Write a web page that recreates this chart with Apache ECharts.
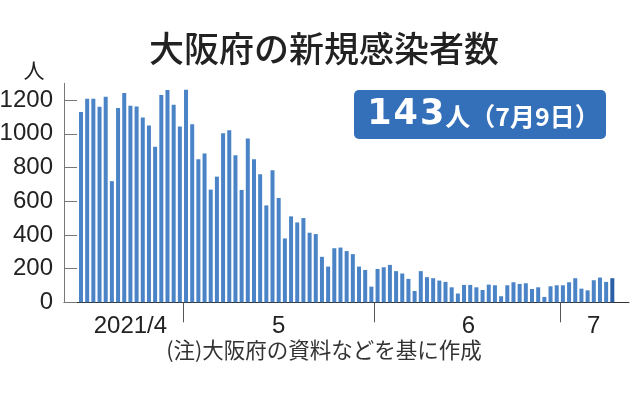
<!DOCTYPE html>
<html><head><meta charset="utf-8">
<script src="https://cdn.jsdelivr.net/npm/echarts@6/dist/echarts.min.js"></script>
<style>html,body{margin:0;padding:0;background:#fff}#c{width:638px;height:396px}</style>
</head><body><div id="c"></div>
<script>
// ---- data ----
const startYear = 2021, startMonth = 4, startDay = 14;   // first bar: 2021/4/14
const cases = [
  1130,1208,1209,1161,1220,719,1153,1242,1167,1162,1097,1050,923,1230,1260,1172,1043,   // Apr 14-30
  1262,1057,849,883,669,746,1004,1021,873,667,973,849,760,575,784,619,379,510,474,500,413,405,270,212,321,325,304,286,212,192,93, // May
  198,208,222,185,171,139,67,185,149,143,129,121,89,52,103,103,89,73,105,101,36,101,119,109,113,79,89,32,95,101, // June
  101,119,143,81,71,131,147,121,143  // Jul 1-9
];
const monthLabels = ['2021/4', '5', '6', '7'];
const monthLabelPos = [8, 32, 62.7, 83];
const yTicks = [0, 200, 400, 600, 800, 1000, 1200];
const titleText = '大阪府の新規感染者数';
const noteText = '(注)大阪府の資料などを基に作成';
const latestValue = '143';
const latestSuffix = ['人', '（', '7', '月', '9', '日', '）'];
const unitText = '人';

// ---- derived ----
const dates = cases.map((_, i) => {
  const d = new Date(startYear, startMonth - 1, startDay + i);
  return (d.getMonth() + 1) + '/' + d.getDate();
});
const monthStarts = [];
dates.forEach((d, i) => { if (i > 0 && d.split('/')[1] === '1') monthStarts.push(i - 0.5); });
const highlightIndex = cases.length - 1;
const barData = cases.map((v, i) => i === highlightIndex
  ? { value: [i, v], itemStyle: { color: '#2a5ea6' } }
  : { value: [i, v] });

const numFont = "'Liberation Sans', Arial, sans-serif";
const cjkFont = "'Noto Sans CJK JP', 'Noto Sans', sans-serif";

const boxText = latestValue.split('').map(c => '{a|' + c + '}').join('') +
  latestSuffix.map(c => '{b|' + c + '}').join('');

const chart = echarts.init(document.getElementById('c'), null, { renderer: 'canvas' });
chart.setOption({
  animation: false,
  backgroundColor: '#fff',
  grid: { left: 64, right: 9, top: 83.3, bottom: 93.7, outerBoundsMode: 'none', containLabel: false },
  xAxis: {
    type: 'value', min: -2.75, max: cases.length + 1.7,
    splitLine: { show: false },
    axisLine: { show: true, onZero: false, lineStyle: { color: '#333', width: 1 } },
    axisTick: { show: true, customValues: monthStarts, length: 20, lineStyle: { color: '#555' } },
    axisLabel: {
      customValues: monthLabelPos,
      formatter: v => monthLabels[monthLabelPos.indexOf(v)],
      margin: 12, fontSize: 24, fontFamily: numFont, color: '#222'
    }
  },
  yAxis: {
    type: 'value', min: 0, max: 1300,
    splitLine: { show: false },
    axisLine: { show: true, onZero: false, lineStyle: { color: '#777' } },
    axisTick: { show: true, inside: true, customValues: yTicks, length: 13, lineStyle: { color: '#777' } },
    axisLabel: { customValues: yTicks, formatter: v => String(v), margin: 11, fontSize: 24, fontFamily: numFont, color: '#222' }
  },
  series: [{
    type: 'bar', data: barData, barWidth: 4,
    itemStyle: { color: '#4a84c6' }
  }],
  graphic: [
    { type: 'text', x: 324, y: 48.5, style: { text: titleText, fontSize: 35, fontWeight: 500, fontFamily: cjkFont, fill: '#222', align: 'center', verticalAlign: 'middle' } },
    { type: 'text', x: 34, y: 70, style: { text: unitText, fontSize: 21, fontFamily: cjkFont, fill: '#222', align: 'center', verticalAlign: 'middle' } },
    { type: 'text', x: 324, y: 350, style: { text: noteText, fontSize: 21.5, fontFamily: cjkFont, fill: '#333', align: 'center', verticalAlign: 'middle' } },
    { type: 'rect', shape: { x: 354, y: 90, width: 252, height: 49, r: 5 }, style: { fill: '#3470b9' } },
    { type: 'text', x: 483, y: 114.5, style: {
        text: boxText,
        align: 'center', verticalAlign: 'middle',
        rich: {
          a: { fontSize: 35, fontWeight: 'bold', fontFamily: "'DejaVu Sans', sans-serif", fill: '#fff', color: '#fff', padding: [0, 1] },
          b: { fontSize: 25, fontWeight: 'bold', fontFamily: cjkFont, fill: '#fff', color: '#fff', padding: [4, 0, 0, 0] }
        }
    } }
  ]
});
</script></body></html>
